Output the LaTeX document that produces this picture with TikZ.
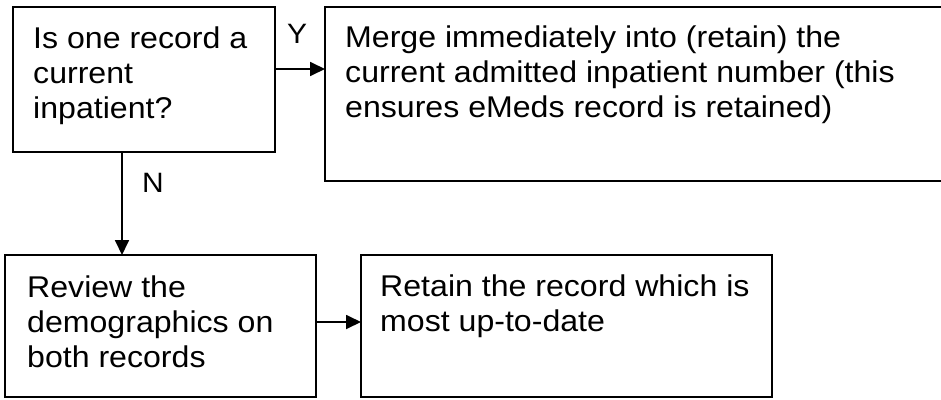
\documentclass[tikz,border=0pt]{standalone}
\usepackage{fontspec}
\setmainfont{Liberation Sans}[FakeStretch=1.07]
\usetikzlibrary{arrows.meta}
\begin{document}
\begin{tikzpicture}[x=1pt,y=-1pt,
  box/.style={draw, line width=1.8pt, rectangle, inner sep=0pt, outer sep=0pt, anchor=north west},
  lbl/.style={anchor=base west, inner sep=0pt, font=\fontsize{30}{35}\selectfont, align=left},
  tag/.style={anchor=base west, inner sep=0pt, font=\fontsize{28}{35}\selectfont},
  arr/.style={line width=1.8pt, -{Triangle[length=15pt,width=14pt]}}]
\useasboundingbox (0,0) rectangle (941,399);
\fill[white] (0,0) rectangle (941,399);

% boxes
\node[box, minimum width=262pt, minimum height=145pt] (q) at (13,7) {};
\node[box, minimum width=700pt, minimum height=174pt] (m) at (325,7) {};
\node[box, minimum width=311pt, minimum height=142pt] (r) at (5,255) {};
\node[box, minimum width=411pt, minimum height=142pt] (d) at (361,255) {};

% box texts (anchored at the baseline of the last line)
\node[lbl] (qt) at (33,118) {Is one record a\\current\\inpatient?};
\node[lbl] (mt) at (345,117) {Merge immediately into (retain) the\\current admitted inpatient number (this\\ensures eMeds record is retained)};
\node[lbl] (rt) at (27,367) {Review the\\demographics on\\both records};
\node[lbl] (dt) at (380,331) {Retain the record which is\\most up-to-date};

% connectors
\draw[arr] ([yshift=-62pt]q.north east) coordinate (ya) -- (ya -| m.west);
\draw[arr] ([xshift=109pt]q.south west) coordinate (na) -- (na |- r.north);
\draw[arr] ([yshift=-67pt]r.north east) coordinate (ra) -- (ra -| d.west);

% branch labels
\node[tag] (y) at (287,43) {Y};
\node[tag] (n) at (142,192) {N};
\end{tikzpicture}
\end{document}
